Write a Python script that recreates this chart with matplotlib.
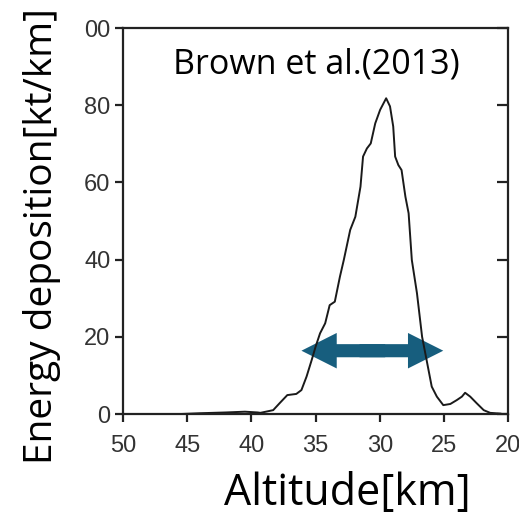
import matplotlib.pyplot as plt

# energy deposition profile
altitude = [45.5, 44.0, 42.0, 40.5, 39.5, 39.3, 38.3, 37.8, 37.2, 36.5, 36.1, 35.7,
            35.3, 35.0, 34.65, 34.25, 33.9, 33.5, 33.1, 32.8, 32.3, 31.9, 31.5, 31.3,
            31.0, 30.7, 30.35, 29.97, 29.5, 29.2, 28.95, 28.8, 28.55, 28.3, 28.0, 27.75,
            27.5, 27.1, 26.7, 26.35, 25.95, 25.55, 25.05, 24.5, 24.0, 23.6, 23.35, 22.95,
            22.45, 21.9, 21.4, 20.6]
energy = [0.0, 0.2, 0.4, 0.6, 0.4, 0.3, 1.0, 2.8, 4.9, 5.2, 6.2, 9.7,
          14.0, 17.4, 20.9, 23.5, 28.2, 29.1, 35.6, 39.9, 47.7, 51.1, 58.9, 66.7,
          68.8, 70.1, 75.3, 78.8, 81.8, 79.7, 74.5, 66.7, 64.5, 63.2, 56.3, 52.0,
          39.9, 31.3, 20.0, 14.0, 7.1, 4.5, 2.3, 2.6, 3.6, 4.5, 5.5, 4.5,
          2.8, 1.0, 0.3, 0.1]

# width of the energy release, shown as a double arrow
span_start = 36.1
span_end = 25.05
span_level = 16.4

x_ticks = [50, 45, 40, 35, 30, 25, 20]
y_ticks = [0, 20, 40, 60, 80, 100]
y_tick_labels = ['0', '20', '40', '60', '80', '00']

fig = plt.figure(figsize=(5.19, 5.19), dpi=100)
ax = fig.add_axes([0.237, 0.2023, 0.742, 0.7437])

ax.plot(altitude, energy, color='#1a1a1a', lw=1.4)

arrow_color = '#175e7e'
mid = (span_start + span_end) / 2
for end, back in ((span_start, -1.0), (span_end, 1.0)):
    # each half starts a little past the middle so the two overlap
    ax.arrow(mid + back, span_level, end - mid - back, 0, width=3.4, head_width=9.2,
             head_length=2.75, length_includes_head=True, color=arrow_color, lw=0)

ax.set_xlim(50, 20)
ax.set_ylim(0, 100)
ax.set_xticks(x_ticks)
ax.set_yticks(y_ticks)
ax.set_yticklabels(y_tick_labels)

for s in ax.spines.values():
    s.set_linewidth(1.6)
    s.set_color('#222222')

ax.tick_params(axis='both', which='major', direction='out', length=6, width=1.6,
               color='#222222', labelsize=17, labelcolor='#333333')
ax.tick_params(axis='x', pad=9)
ax.tick_params(axis='y', pad=3, right=True)
for lab in ax.get_xticklabels() + ax.get_yticklabels():
    lab.set_fontfamily('Liberation Sans')
# inward ticks on the right side only
for t in ax.yaxis.get_major_ticks():
    t.tick2line.set_marker(0)
    t.tick2line.set_markersize(8)

ax.set_xlabel('Altitude[km]', fontsize=31, fontfamily='Open Sans', color='black')
ax.xaxis.set_label_coords(0.582, -0.237)
ax.xaxis.label.set_verticalalignment('baseline')

ax.set_ylabel('Energy deposition[kt/km]', fontsize=28, fontfamily='Open Sans', color='black')
ax.yaxis.set_label_coords(-0.1844, 0.461)
ax.yaxis.label.set_verticalalignment('baseline')

ax.text(0.501, 0.883, 'Brown et al.(2013)', transform=ax.transAxes, ha='center',
        va='baseline', fontsize=24.5, fontfamily='Open Sans', color='black')

fig.savefig('out.png', dpi=100)
